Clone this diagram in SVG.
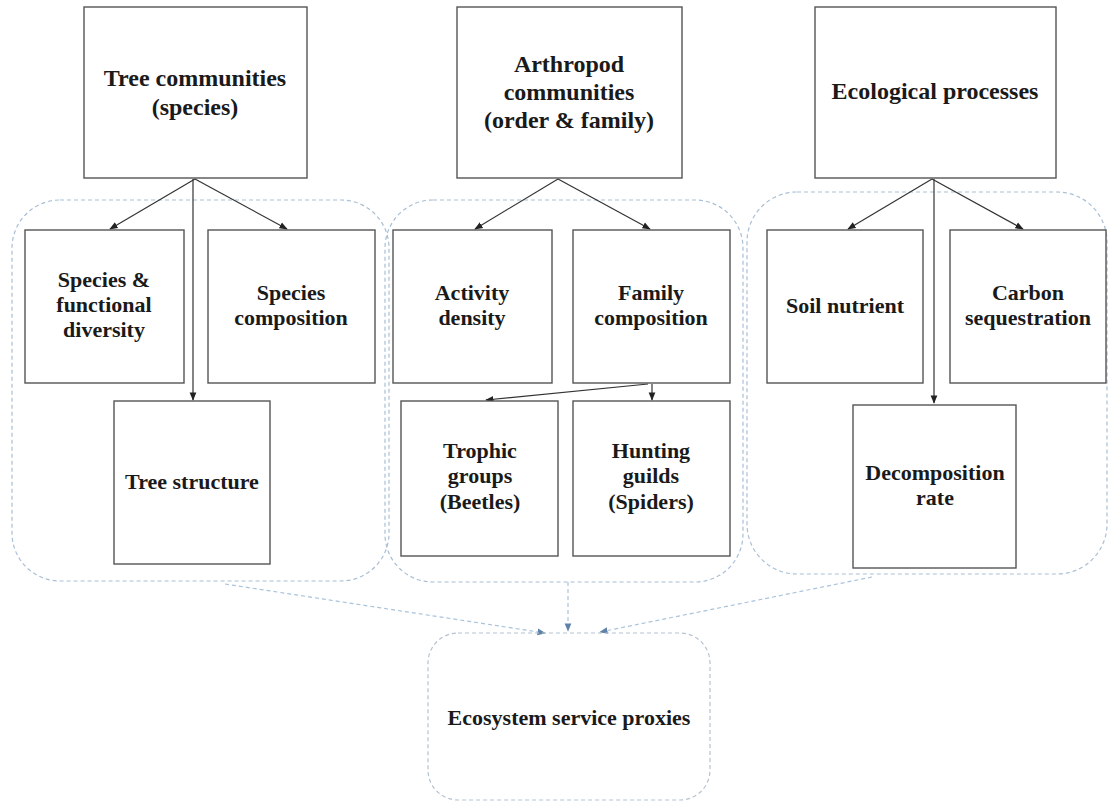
<svg xmlns="http://www.w3.org/2000/svg" width="1108" height="803" viewBox="0 0 1108 803">
<defs>
<style>
.box{fill:#fff;stroke:#555;stroke-width:1.4}
.grp{fill:none;stroke:#a9bfd6;stroke-width:1.2;stroke-dasharray:4 3}
.t{font-family:"Liberation Serif","Times New Roman",serif;font-weight:bold;font-size:22px;fill:#1a1a1a;text-anchor:middle}
.tt{font-size:24px}
.c{fill:none;stroke:#333;stroke-width:1.2}
.d{fill:none;stroke:#a9c3dc;stroke-width:1.2;stroke-dasharray:4 3}
</style>
<marker id="ah" viewBox="0 0 10 10" refX="9" refY="5" markerWidth="7" markerHeight="7" orient="auto">
<path d="M0,1 L10,5 L0,9 Z" fill="#222"/>
</marker>
<marker id="ahb" viewBox="0 0 10 10" refX="9" refY="5" markerWidth="7" markerHeight="7" orient="auto">
<path d="M0,1 L10,5 L0,9 Z" fill="#5f82a8"/>
</marker>
</defs>
<rect width="1108" height="803" fill="#fff"/>

<g id="groups">
<rect id="group-trees" class="grp" x="12" y="200" width="377" height="381" rx="48"/>
<rect id="group-arthropods" class="grp" x="385" y="200" width="358" height="382" rx="48"/>
<rect id="group-processes" class="grp" x="747" y="192" width="360" height="382" rx="50"/>
</g>

<g id="connectors">
<path class="c" d="M195,179 L110,229" marker-end="url(#ah)"/>
<path class="c" d="M195,179 L287,229" marker-end="url(#ah)"/>
<path class="c" d="M193,179 L193,400" marker-end="url(#ah)"/>
<path class="c" d="M558,179 L475,229" marker-end="url(#ah)"/>
<path class="c" d="M558,179 L650,229" marker-end="url(#ah)"/>
<path class="c" d="M648,384 L486,400" marker-end="url(#ah)"/>
<path class="c" d="M652,384 L652,400" marker-end="url(#ah)"/>
<path class="c" d="M932,179 L848,229" marker-end="url(#ah)"/>
<path class="c" d="M932,179 L1023,229" marker-end="url(#ah)"/>
<path class="c" d="M934,179 L934,403" marker-end="url(#ah)"/>
<path class="d" d="M225,584 L545,633" marker-end="url(#ahb)"/>
<path class="d" d="M568,582 L568,631" marker-end="url(#ahb)"/>
<path class="d" d="M872,577 L600,632" marker-end="url(#ahb)"/>
</g>

<g id="node-tree-communities">
<rect class="box" x="84" y="7" width="223" height="171"/>
<text class="t tt" x="195" y="86">Tree communities</text>
<text class="t tt" x="195" y="115">(species)</text>
</g>
<g id="node-arthropod-communities">
<rect class="box" x="457" y="7" width="225" height="171"/>
<text class="t tt" x="569" y="72">Arthropod</text>
<text class="t tt" x="569" y="100">communities</text>
<text class="t tt" x="569" y="128">(order &amp; family)</text>
</g>
<g id="node-ecological-processes">
<rect class="box" x="815" y="7" width="241" height="171"/>
<text class="t tt" x="935" y="99">Ecological processes</text>
</g>

<g id="node-species-functional-diversity">
<rect class="box" x="25" y="230" width="159" height="153"/>
<text class="t" x="104" y="287">Species &amp;</text>
<text class="t" x="104" y="312">functional</text>
<text class="t" x="104" y="337">diversity</text>
</g>
<g id="node-species-composition">
<rect class="box" x="208" y="230" width="167" height="153"/>
<text class="t" x="291" y="300">Species</text>
<text class="t" x="291" y="325">composition</text>
</g>
<g id="node-tree-structure">
<rect class="box" x="114" y="401" width="156" height="163"/>
<text class="t" x="192" y="489">Tree structure</text>
</g>

<g id="node-activity-density">
<rect class="box" x="393" y="230" width="159" height="153"/>
<text class="t" x="472" y="300">Activity</text>
<text class="t" x="472" y="325">density</text>
</g>
<g id="node-family-composition">
<rect class="box" x="573" y="230" width="157" height="153"/>
<text class="t" x="651" y="300">Family</text>
<text class="t" x="651" y="325">composition</text>
</g>
<g id="node-trophic-groups">
<rect class="box" x="401" y="401" width="157" height="155"/>
<text class="t" x="480" y="458">Trophic</text>
<text class="t" x="480" y="483">groups</text>
<text class="t" x="480" y="509">(Beetles)</text>
</g>
<g id="node-hunting-guilds">
<rect class="box" x="573" y="401" width="157" height="155"/>
<text class="t" x="651" y="458">Hunting</text>
<text class="t" x="651" y="483">guilds</text>
<text class="t" x="651" y="509">(Spiders)</text>
</g>

<g id="node-soil-nutrient">
<rect class="box" x="767" y="230" width="156" height="153"/>
<text class="t" x="845" y="313">Soil nutrient</text>
</g>
<g id="node-carbon-sequestration">
<rect class="box" x="950" y="230" width="156" height="153"/>
<text class="t" x="1028" y="300">Carbon</text>
<text class="t" x="1028" y="325">sequestration</text>
</g>
<g id="node-decomposition-rate">
<rect class="box" x="853" y="405" width="163" height="163"/>
<text class="t" x="935" y="480">Decomposition</text>
<text class="t" x="935" y="505">rate</text>
</g>

<g id="node-ecosystem-service-proxies">
<rect class="grp" x="428" y="633" width="282" height="167" rx="30" style="stroke:#b5c3d1"/>
<text class="t" x="569" y="725">Ecosystem service proxies</text>
</g>
</svg>
